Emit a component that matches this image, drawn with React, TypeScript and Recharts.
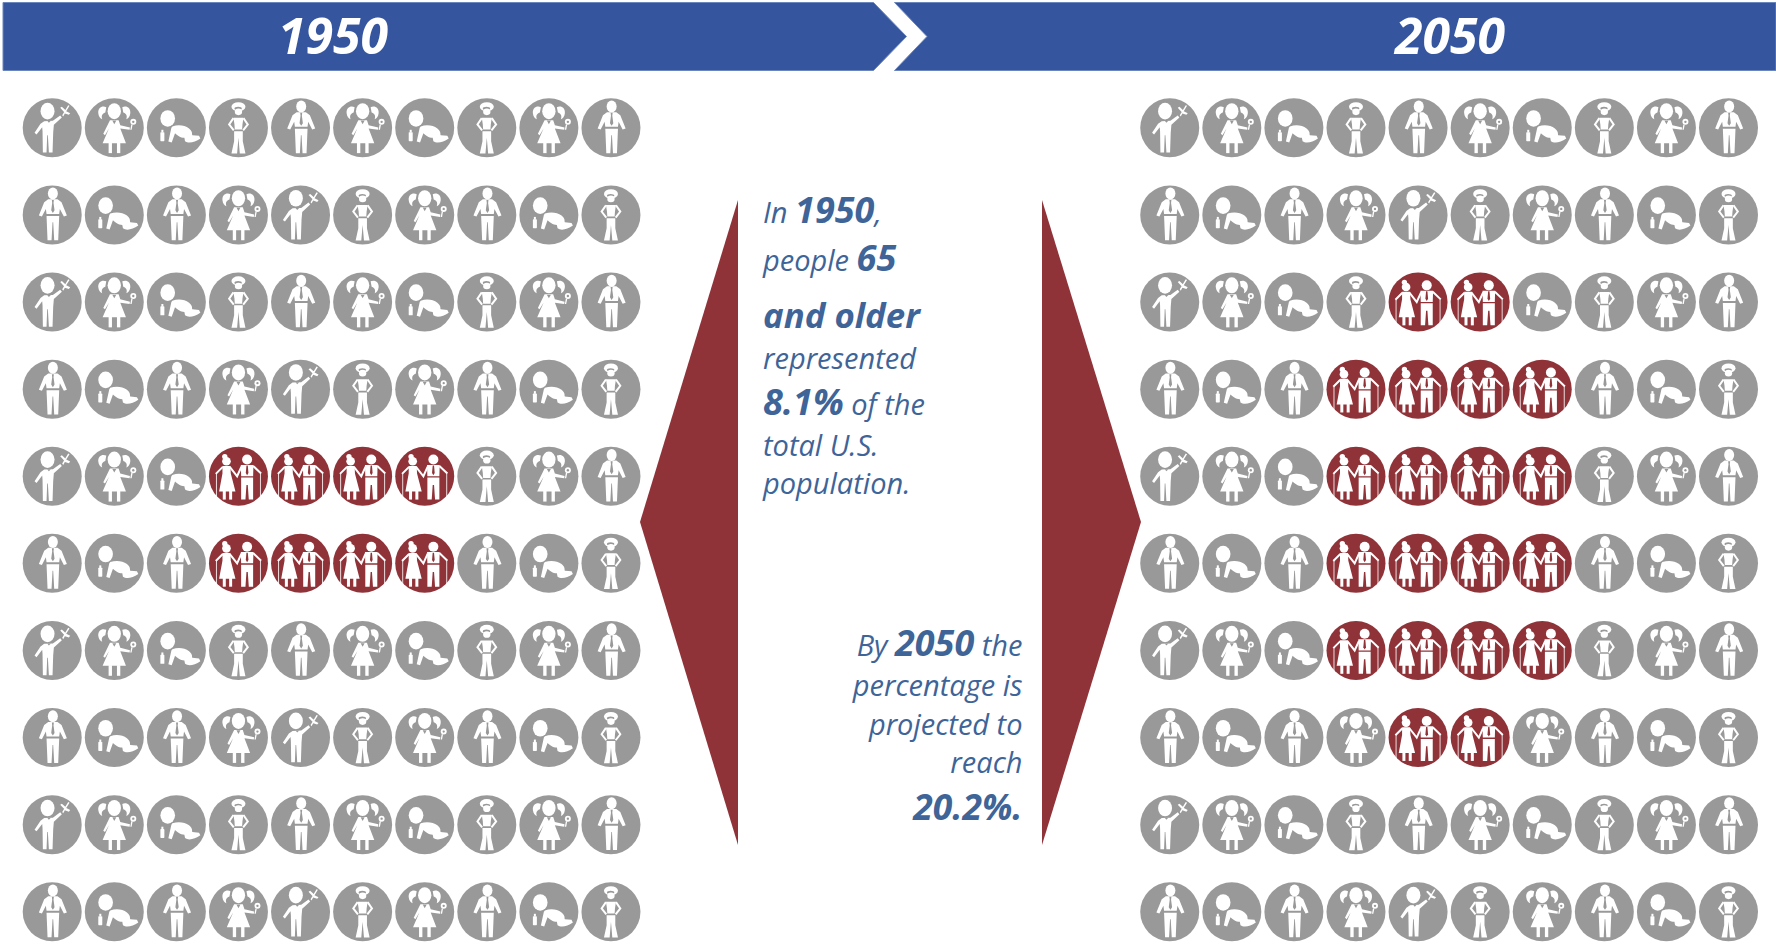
import React from "react";
import { Customized, Scatter, ScatterChart, XAxis, YAxis } from "recharts";

const WIDTH = 1776;
const HEIGHT = 944;

// b boy, g girl, c crawling baby, w woman, m man, e couple aged 65 and older
const GRID_1950 = [
  "bgcwmgcwgm",
  "mcmgbwgmcw",
  "bgcwmgcwgm",
  "mcmgbwgmcw",
  "bgceeeewgm",
  "mcmeeeemcw",
  "bgcwmgcwgm",
  "mcmgbwgmcw",
  "bgcwmgcwgm",
  "mcmgbwgmcw",
];

const GRID_2050 = [
  "bgcwmgcwgm",
  "mcmgbwgmcw",
  "bgcweecwgm",
  "mcmeeeemcw",
  "bgceeeewgm",
  "mcmeeeemcw",
  "bgceeeewgm",
  "mcmgeegmcw",
  "bgcwmgcwgm",
  "mcmgbwgmcw",
];

// the 2050 block starts this many columns along the shared axis
const COLUMN_OFFSET_2050 = 18;
const COLUMN_MAX = 27;
const ROW_MAX = 9;

const toPoints = (grid: string[], offset: number) =>
  grid.flatMap((line, row) =>
    line.split("").map((kind, col) => ({ col: col + offset, row, kind }))
  );

const points1950 = toPoints(GRID_1950, 0);
const points2050 = toPoints(GRID_2050, COLUMN_OFFSET_2050);

const GREY = "#999999";
const RED = "#8f3339";
const BLUE = "#35569f";
const TEXT = "#3e6498";
const FONT = "'Open Sans', sans-serif";
const RADIUS = 29.5;

// Figures are drawn in a 3x unit around the middle of the disc
function Boy({ bg }: { bg: string }) {
  return (
    <g fill="#fff">
      <ellipse cx={-14} cy={-50} rx={21} ry={25} />
      <path d="M-24 -20 L2 -21 L24 -37 L29 -31 L5 -9 L3 14 L1 74 L-10 74 L-13 22 L-15 22 L-17 74 L-28 74 L-29 10 L-30 -2 L-47 20 L-53 15 L-35 -12 Z" />
      <path d="M-4 -21 L-15 -21 L-10 -15 Z" fill={bg} />
      <path d="M30 -38 L48 -68 L52 -66 L42 -50 L54 -44 L50 -39 L38 -43 L33 -34 Z M24 -60 L29 -63 L41 -52 L37 -46 Z" />
    </g>
  );
}

function Girl({ bg }: { bg: string }) {
  return (
    <g fill="#fff">
      <ellipse cx={0} cy={-50} rx={20} ry={24} />
      <path d="M-24 -62 C-36 -68 -50 -60 -48 -44 C-47 -34 -42 -28 -36 -26 C-39 -34 -38 -42 -27 -46 Z" />
      <path d="M24 -62 C36 -68 50 -60 48 -44 C47 -34 42 -28 36 -26 C39 -34 38 -42 27 -46 Z" />
      <path d="M-13 -23 L13 -23 L18 -8 L47 -1 L46 6 L18 2 L35 46 L-35 46 L-16 2 L-28 22 L-33 18 Z" />
      <rect x={-17} y={44} width={10} height={32} />
      <rect x={8} y={44} width={10} height={32} />
      <path d="M-6 -22 L6 -22 L0 -11 Z" fill={bg} />
      <path d="M51 -10 L55 -10 L52 6 L48 6 Z" />
      <circle cx={57} cy={-18} r={9} />
      <circle cx={57} cy={-18} r={3.5} fill={bg} />
    </g>
  );
}

function Baby() {
  return (
    <g fill="#fff">
      <ellipse cx={-26} cy={-28} rx={22} ry={25} />
      <rect x={-48} y={13} width={12} height={27} rx={2} />
      <rect x={-45} y={6} width={6} height={8} />
      <path d="M-12 -4 C5 -10 25 -8 38 2 C50 12 46 18 48 22 L68 24 L72 32 C55 44 36 48 26 40 L24 30 C12 30 2 22 -4 16 L-14 44 L-24 41 L-15 0 Z" />
    </g>
  );
}

function Woman({ bg }: { bg: string }) {
  return (
    <g fill="#fff">
      <ellipse cx={0} cy={-63} rx={21} ry={14} />
      <ellipse cx={-1} cy={-58} rx={11} ry={5} fill={bg} />
      <ellipse cx={0} cy={-48} rx={11} ry={10} />
      <path d="M-15 -30 L15 -30 L12 -10 L11 5 L-11 5 L-12 -10 Z" />
      <path d="M-15 -29 L-28 -10 L-14 8 M15 -29 L28 -10 L14 8" fill="none" stroke="#fff" strokeWidth={6} />
      <path d="M-13 10 L13 10 L13 40 L21 77 L4 77 L0 30 L-4 77 L-21 77 L-13 40 Z" />
    </g>
  );
}

function Man({ bg }: { bg: string }) {
  return (
    <g fill="#fff" transform="translate(2,0)">
      <ellipse cx={0} cy={-64} rx={15} ry={18} />
      <path d="M-14 -47 L14 -47 L26 -38 L42 2 L33 5 L21 -18 L19 -3 L-19 -3 L-21 -18 L-33 5 L-42 2 L-26 -38 Z" />
      <path d="M-3 -45 L3 -45 L2 -36 L5 -14 L0 -6 L-5 -14 L-2 -36 Z" fill={bg} />
      <path d="M-19 3 L19 3 L16 76 L4 76 L1 22 L-1 22 L-4 76 L-16 76 Z" />
    </g>
  );
}

function Couple({ bg }: { bg: string }) {
  return (
    <g fill="#fff">
      <circle cx={-36} cy={-45} r={13} />
      <circle cx={-41} cy={-59} r={8} />
      <path d="M-48 -31 L-24 -31 L-23 -8 L-9 46 L-58 46 L-48 -8 Z" />
      <rect x={-47} y={44} width={9} height={26} />
      <rect x={-28} y={44} width={9} height={26} />
      <circle cx={26} cy={-50} r={15} />
      <path d="M7 -34 L45 -34 L44 0 L8 0 Z" />
      <path d="M24 -32 L28 -32 L30 -10 L26 -3 L22 -10 Z" fill={bg} />
      <path d="M8 4 L44 4 L44 70 L31 70 L28 26 L24 26 L21 70 L8 70 Z" />
      <path
        d="M-47 -28 L-68 -7 M-26 -28 L-4 0 L9 -29 M44 -31 L68 -8"
        fill="none"
        stroke="#fff"
        strokeWidth={6}
      />
      <path d="M-66 -7 L-66 66 M66 -8 L66 68" stroke="#fff" strokeWidth={2.5} />
    </g>
  );
}

function PersonDot(props: any) {
  const { cx, cy, payload } = props;
  const kind = payload.kind;
  const bg = kind === "e" ? RED : GREY;
  return (
    <g transform={`translate(${cx},${cy})`}>
      <circle r={RADIUS} fill={bg} />
      <g transform="scale(0.3333)">
        {kind === "b" && <Boy bg={bg} />}
        {kind === "g" && <Girl bg={bg} />}
        {kind === "c" && <Baby />}
        {kind === "w" && <Woman bg={bg} />}
        {kind === "m" && <Man bg={bg} />}
        {kind === "e" && <Couple bg={bg} />}
      </g>
    </g>
  );
}

function Strong({ children, size = 36 }: { children: React.ReactNode; size?: number }) {
  return (
    <tspan fontWeight={700} fontSize={size}>
      {children}
    </tspan>
  );
}

// Banner across the top and the two red wedges with their captions
function Decor() {
  const left = 763;
  const right = 1022.5;
  const copy = {
    fontFamily: FONT,
    fontStyle: "italic",
    fontSize: 29,
    fill: TEXT,
  } as const;
  return (
    <g>
      <polygon
        points="3,2.5 873.5,2.5 906.5,36.5 873.5,70.5 3,70.5"
        fill={BLUE}
        stroke="#6b86bd"
        strokeWidth={1}
      />
      <polygon
        points="894.5,2.5 1776,2.5 1776,70.5 894.5,70.5 927,36.5"
        fill={BLUE}
        stroke="#6b86bd"
        strokeWidth={1}
      />
      <text x={333} y={53.5} textAnchor="middle" fontFamily={FONT} fontStyle="italic" fontWeight={700} fontSize={50} fill="#fff">
        1950
      </text>
      <text x={1450} y={53.5} textAnchor="middle" fontFamily={FONT} fontStyle="italic" fontWeight={700} fontSize={50} fill="#fff">
        2050
      </text>

      <polygon points="738,200 738,845 640,522" fill={RED} />
      <polygon points="1042,200 1042,845 1141,522" fill={RED} />

      <text x={left} y={222.5} {...copy}>
        {"In "}
        <Strong>1950</Strong>,
      </text>
      <text x={left} y={270.5} {...copy}>
        {"people "}
        <Strong>65</Strong>
      </text>
      <text x={left} y={327.5} {...copy}>
        <Strong size={34.8}>and older</Strong>
      </text>
      <text x={left} y={368.5} {...copy}>
        represented
      </text>
      <text x={left} y={414.5} {...copy}>
        <Strong>8.1%</Strong>
        {" of the"}
      </text>
      <text x={left} y={456} {...copy}>
        total U.S.
      </text>
      <text x={left} y={494} {...copy}>
        population.
      </text>

      <text x={right} y={656} textAnchor="end" {...copy}>
        {"By "}
        <Strong>2050</Strong>
        {" the"}
      </text>
      <text x={right} y={696} textAnchor="end" {...copy}>
        percentage is
      </text>
      <text x={right} y={735} textAnchor="end" {...copy}>
        projected to
      </text>
      <text x={right} y={773} textAnchor="end" {...copy}>
        reach
      </text>
      <text x={right} y={819.5} textAnchor="end" {...copy}>
        <Strong size={35.5}>20.2%.</Strong>
      </text>
    </g>
  );
}

export default function App() {
  return (
    <div style={{ position: "absolute", left: 0, top: 0, width: WIDTH, height: HEIGHT, background: "#fff" }}>
      <ScatterChart
        width={WIDTH}
        height={HEIGHT}
        margin={{ top: 127.8, right: 47.5, bottom: 32.2, left: 52.2 }}
      >
        <XAxis type="number" dataKey="col" domain={[0, COLUMN_MAX]} hide />
        <YAxis type="number" dataKey="row" domain={[0, ROW_MAX]} reversed hide />
        <Customized component={<Decor />} />
        <Scatter data={points1950} shape={PersonDot} isAnimationActive={false} />
        <Scatter data={points2050} shape={PersonDot} isAnimationActive={false} />
      </ScatterChart>
    </div>
  );
}
